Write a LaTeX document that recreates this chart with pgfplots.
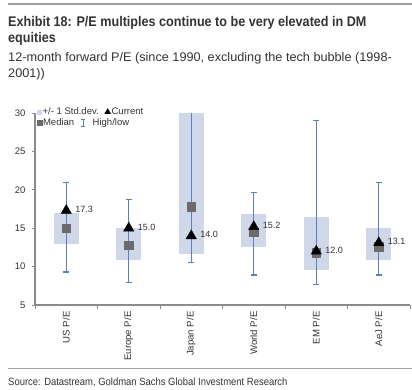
\documentclass[border=0pt]{standalone}
\usepackage{fontspec}
\setmainfont{Liberation Sans}
\newfontfamily\condfont[FakeStretch=0.90]{Liberation Sans}
\newfontfamily\subfont[FakeStretch=1.015]{Liberation Sans}
\usepackage{pgfplots}
\usepackage{pgfplotstable}
\pgfplotsset{compat=1.18}
\definecolor{boxc}{HTML}{D0D7E9}
\definecolor{barc}{HTML}{5B7FBF}
\definecolor{medc}{HTML}{6B6B6B}
\definecolor{axc}{HTML}{8C8C8C}
\definecolor{txt}{HTML}{333333}
\definecolor{labc}{HTML}{3A2A38}
\definecolor{rulec}{HTML}{A0A0A0}
\pgfplotstableread{
x lo hi med cur min max
0 13.0 17.0 15.0 17.3 9.3 21.0
1 10.9 15.0 12.8 15.0 7.9 18.7
2 11.6 31.0 17.8 14.0 10.5 34.0
3 12.5 16.8 14.5 15.2 8.9 19.7
4 9.5 16.4 11.8 12.0 7.7 29.0
5 10.9 15.0 12.6 13.1 8.9 21.0
}\pedata
\pgfplotsset{
  markleg/.style={legend image code/.code={\draw[##1] plot coordinates {(0.1cm,0cm)};}},
}
\begin{document}
\begin{tikzpicture}
\path[use as bounding box] (0pt,0pt) rectangle (412pt,-390pt);
\draw[rulec, line width=1.5pt] (8pt,-4pt) -- (412pt,-4pt);
\node[anchor=base west, inner sep=0, text=txt, font=\condfont\bfseries\fontsize{14}{16}\selectfont] at (8pt,-27pt) {Exhibit 18: P/E multiples continue to be very elevated in DM};
\node[anchor=base west, inner sep=0, text=txt, font=\condfont\bfseries\fontsize{14}{16}\selectfont] at (8pt,-43pt) {equities};
\node[anchor=base west, inner sep=0, text=txt, font=\subfont\fontsize{12.5}{14}\selectfont] at (8pt,-62pt) {12-month forward P/E (since 1990, excluding the tech bubble (1998-};
\node[anchor=base west, inner sep=0, text=txt, font=\subfont\fontsize{12.5}{14}\selectfont] at (8pt,-78pt) {2001))};
\draw[rulec, line width=1pt] (8pt,-368pt) -- (412pt,-368pt);
\node[anchor=base west, inner sep=0, text=txt, font=\condfont\fontsize{10.5}{12}\selectfont] at (8pt,-385pt) {Source: Datastream, Goldman Sachs Global Investment Research};
\begin{axis}[
  at={(35pt,-305pt)}, anchor=south west,
  width=375pt, height=192pt, scale only axis,
  xmin=-0.5, xmax=5.5, ymin=5, ymax=30,
  /pgf/number format/assume math mode=true,
  axis x line*=bottom, axis y line*=left,
  axis line style={axc, line width=1.2pt, -},
  ytick={5,10,...,30},
  xtick={0,...,5},
  xticklabels={US P/E, Europe P/E, Japan P/E, World P/E, EM P/E, AeJ P/E},
  x tick label style={rotate=90, anchor=east, font=\fontsize{9.6}{10}\selectfont, text=txt},
  y tick label style={font=\fontsize{9.5}{10}\selectfont, text=txt},
  minor xtick={-0.5,0.5,...,5.5},
  major x tick style={draw=none},
  minor x tick style={axc, line width=1pt},
  y tick style={axc, line width=1pt},
  tick align=outside,
  major tick length=3pt, minor tick length=4pt,
  xticklabel shift=0pt,
  yticklabel style={xshift=-3pt},
  legend style={draw=none, fill=none, at={(axis description cs:0.005,1.033)}, anchor=north west,
    font=\fontsize{9.5}{10}\selectfont, text=txt, inner sep=0pt, column sep=1pt,
    nodes={inner sep=1pt},
    /tikz/every odd column/.append style={column sep=0pt},
    /tikz/every even column/.append style={column sep=5pt}},
  legend columns=2,
]
\addlegendimage{only marks, mark=square*, mark size=2.3pt, mark options={draw=boxc, fill=boxc}, markleg}
\addlegendentry{+/- 1 Std.dev.}
\addlegendimage{only marks, mark=triangle*, mark size=3.4pt, mark options={draw=black, fill=black}, markleg}
\addlegendentry{Current}
% std dev boxes
\addplot[draw=none, mark=none, forget plot,
  error bars/.cd, y dir=plus, y explicit, error mark=none,
  error bar style={draw=boxc, line width=25pt}]
  table[x=x, y=lo, y error plus expr={\thisrow{hi}-\thisrow{lo}}] {\pedata};
% high/low
\addplot[draw=none, mark=none, forget plot,
  error bars/.cd, y dir=both, y explicit,
  error bar style={draw=barc, line width=1.4pt},
  error mark options={draw=barc, line width=1.2pt, mark size=2.8pt, rotate=90}]
  table[x=x, y=med, y error plus expr={\thisrow{max}-\thisrow{med}}, y error minus expr={\thisrow{med}-\thisrow{min}}] {\pedata};
% median
\addplot[only marks, mark=square*, mark size=4.2pt, mark options={draw=medc, fill=medc}, forget plot]
  table[x=x, y=med] {\pedata};
% current
\addplot[only marks, mark=triangle*, mark size=6pt, mark options={draw=black, fill=black}, forget plot,
  nodes near coords, point meta=explicit,
  nodes near coords={\pgfmathprintnumber[fixed, fixed zerofill, precision=1, assume math mode=true]{\pgfplotspointmeta}},
  every node near coord/.append style={anchor=west, xshift=9pt, yshift=1pt, inner sep=0pt,
    font=\fontsize{9}{10}\selectfont, text=labc}]
  table[x=x, y=cur, meta=cur] {\pedata};
\end{axis}
\begin{axis}[
  at={(35pt,-305pt)}, anchor=south west,
  width=375pt, height=192pt, scale only axis,
  xmin=-0.5, xmax=5.5, ymin=5, ymax=30, hide axis,
  legend style={draw=none, fill=none, at={(axis description cs:0.005,0.975)}, anchor=north west,
    font=\fontsize{9.5}{10}\selectfont, text=txt, inner sep=0pt, column sep=1pt,
    nodes={inner sep=1pt},
    /tikz/every odd column/.append style={column sep=0pt},
    /tikz/every even column/.append style={column sep=5pt}},
  legend columns=2,
]
\addlegendimage{only marks, mark=square*, mark size=2.5pt, mark options={draw=medc, fill=medc}, markleg}
\addlegendentry{Median}
\addlegendimage{legend image code/.code={
  \draw[barc, line width=1pt] (0.15cm,-0.13cm) -- (0.15cm,0.13cm);
  \draw[barc, line width=1pt] (0.07cm,-0.13cm) -- (0.23cm,-0.13cm);
  \draw[barc, line width=1pt] (0.07cm,0.13cm) -- (0.23cm,0.13cm);
  \path (0.45cm,0);}}
\addlegendentry{High/low}
\end{axis}
\end{tikzpicture}
\end{document}
